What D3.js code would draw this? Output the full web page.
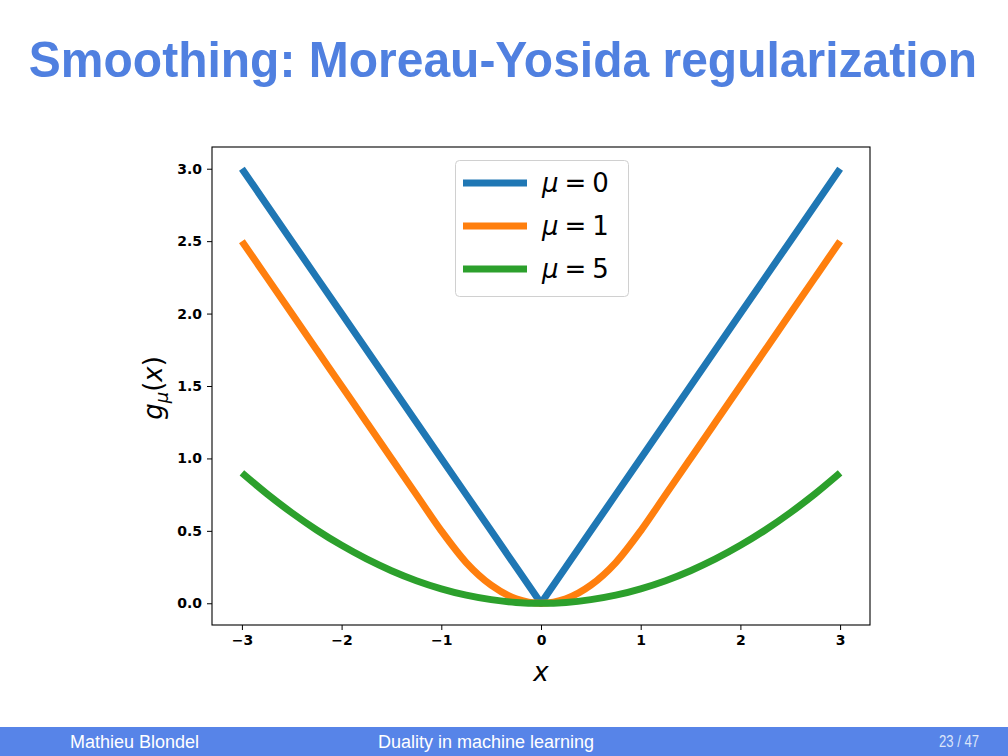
<!DOCTYPE html>
<html><head><meta charset="utf-8">
<script src="https://cdn.jsdelivr.net/npm/d3@7"></script>
<style>
html,body{margin:0;padding:0;background:#fff;}
svg{display:block;}
</style></head>
<body>
<svg id="c" width="1008" height="756"></svg>
<script>
const xs = [-3,-2.75,-2.5,-2.25,-2,-1.75,-1.5,-1.25,-1,-0.75,-0.5,-0.25,0,0.25,0.5,0.75,1,1.25,1.5,1.75,2,2.25,2.5,2.75,3];
const mu0 = [3,2.75,2.5,2.25,2,1.75,1.5,1.25,1,0.75,0.5,0.25,0,0.25,0.5,0.75,1,1.25,1.5,1.75,2,2.25,2.5,2.75,3];
const mu1 = [2.5,2.25,2,1.75,1.5,1.25,1,0.75,0.5,0.281,0.125,0.031,0,0.031,0.125,0.281,0.5,0.75,1,1.25,1.5,1.75,2,2.25,2.5];
const mu5 = [0.9,0.756,0.625,0.506,0.4,0.306,0.225,0.156,0.1,0.056,0.025,0.006,0,0.006,0.025,0.056,0.1,0.156,0.225,0.306,0.4,0.506,0.625,0.756,0.9];
const seriesNames = ["0","1","5"];
const seriesColors = ["#1f77b4","#ff7f0e","#2ca02c"];
const xTicks = [-3,-2,-1,0,1,2,3];
const yTicks = [0,0.5,1,1.5,2,2.5,3];

const svg = d3.select("#c");
// title
svg.append("text").attr("transform","translate(503,77) scale(0.96,1)").attr("text-anchor","middle")
  .attr("font-family","'Liberation Sans',Arial,sans-serif").attr("font-weight","bold")
  .attr("font-size",50).attr("fill","#5080e0").text("Smoothing: Moreau-Yosida regularization");

// footer
svg.append("rect").attr("x",0).attr("y",727).attr("width",1008).attr("height",29).attr("fill","#5784e8");
const ft = svg.append("g").attr("font-family","'Liberation Sans',Arial,sans-serif").attr("font-size",18).attr("fill","#ffffff");
ft.append("text").attr("x",70).attr("y",748).text("Mathieu Blondel");
ft.append("text").attr("x",486).attr("y",748).attr("text-anchor","middle").text("Duality in machine learning");
ft.append("text").attr("x",939).attr("y",747).attr("font-size",17).attr("textLength",40).attr("lengthAdjust","spacingAndGlyphs")
  .attr("fill","#dbe5fa").text("23 / 47");

const L=212, R=870, T=147, B=625;
const x = d3.scaleLinear().domain([-3.3,3.3]).range([L,R]);
const y = d3.scaleLinear().domain([-0.15,3.15]).range([B,T]);

const g = svg.append("g");
const line = d3.line().x(d=>x(d[0])).y(d=>y(d[1])).curve(d3.curveMonotoneX);
const all = [mu0,mu1,mu5];
all.forEach((vals,i)=>{
  const lg = (i===0) ? d3.line().x(d=>x(d[0])).y(d=>y(d[1])) : line;
  g.append("path").attr("d",lg(xs.map((xv,j)=>[xv,vals[j]])))
    .attr("fill","none").attr("stroke",seriesColors[i]).attr("stroke-width",7)
    .attr("stroke-linejoin","round").attr("stroke-linecap","butt");
});

// frame
svg.append("rect").attr("x",L).attr("y",T).attr("width",R-L).attr("height",B-T)
  .attr("fill","none").attr("stroke","#000").attr("stroke-width",1.1);

// axes
const xa = svg.append("g").attr("transform",`translate(0,${B})`)
  .call(d3.axisBottom(x).tickValues(xTicks).tickSize(5).tickPadding(5).tickFormat(d=>d<0?"\u2212"+Math.abs(d):d));
const ya = svg.append("g").attr("transform",`translate(${L},0)`)
  .call(d3.axisLeft(y).tickValues(yTicks).tickSize(5).tickPadding(5).tickFormat(d3.format(".1f")));
[xa,ya].forEach(a=>{
  a.attr("font-size",14);
  a.select(".domain").remove();
  a.selectAll("text").attr("font-family","'DejaVu Sans',sans-serif").attr("font-weight","bold").attr("font-size",14).attr("fill","#000");
  a.selectAll("line").attr("stroke","#000");
});

// axis labels
svg.append("text").attr("x",541).attr("y",681).attr("text-anchor","middle")
  .attr("font-family","'DejaVu Sans',sans-serif").attr("font-style","italic").attr("font-size",26).text("x");
const yl = svg.append("text").attr("transform","translate(162,388) rotate(-90)").attr("text-anchor","middle")
  .attr("font-family","'DejaVu Sans',sans-serif").attr("font-size",26);
yl.append("tspan").attr("font-style","italic").text("g");
yl.append("tspan").attr("font-style","italic").attr("font-size",18).attr("dy",6).text("\u03bc");
yl.append("tspan").attr("dy",-6).text("(");
yl.append("tspan").attr("font-style","italic").text("x");
yl.append("tspan").text(")");

// legend
const lg = svg.append("g");
lg.append("rect").attr("x",455.5).attr("y",160.5).attr("width",173).attr("height",136).attr("rx",4)
  .attr("fill","#fff").attr("fill-opacity",0.8).attr("stroke","#d0d0d0").attr("stroke-width",1);
seriesNames.forEach((n,i)=>{
  const yy = 183 + i*43;
  lg.append("line").attr("x1",463).attr("x2",527).attr("y1",yy).attr("y2",yy)
    .attr("stroke",seriesColors[i]).attr("stroke-width",7);
  const t = lg.append("text").attr("x",542).attr("y",yy+9)
    .attr("font-family","'DejaVu Sans',sans-serif").attr("font-size",26).attr("fill","#000");
  t.append("tspan").attr("font-style","italic").text("\u03bc");
  t.append("tspan").attr("dx",6).text("=");
  t.append("tspan").attr("dx",6).text(n);
});
</script>
</body></html>
